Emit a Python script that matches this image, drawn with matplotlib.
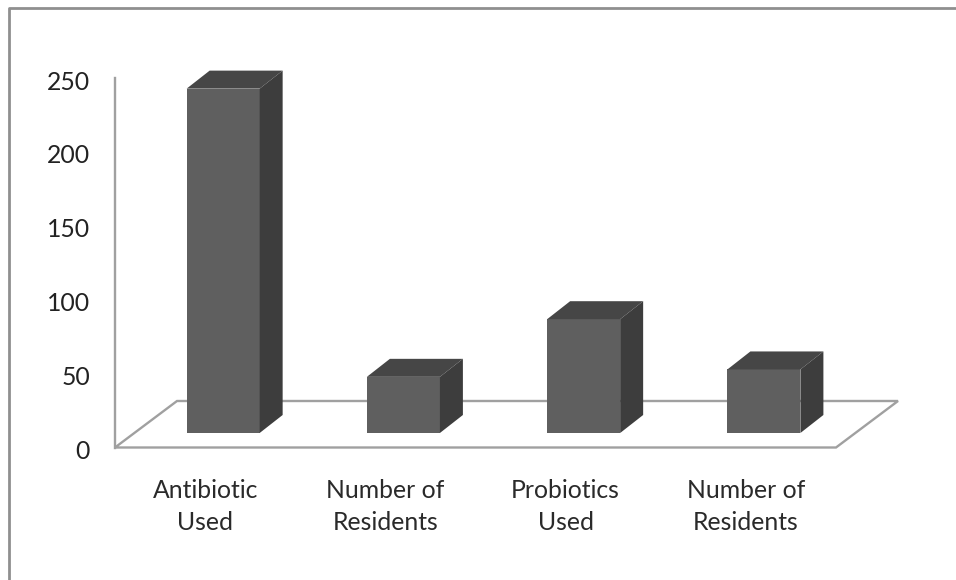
import matplotlib
matplotlib.use("Agg")
import matplotlib.pyplot as plt
from matplotlib.patches import Polygon
from matplotlib.transforms import ScaledTranslation

categories = ["Antibiotic\nUsed", "Number of\nResidents", "Probiotics\nUsed", "Number of\nResidents"]
values = [233, 38, 77, 43]
y_ticks = [0, 50, 100, 150, 200, 250]

W, H = 956, 580
plt.rcParams['font.family'] = ['Lato', 'DejaVu Sans']
fig = plt.figure(figsize=(W / 100, H / 100), dpi=100, facecolor='white')

# axes: x 115..836 px, y 447.5..78 px
ax = fig.add_axes([115 / W, 1 - 447.5 / H, (836 - 115) / W, (447.5 - 78) / H])
ax.set_xlim(-0.6, 3.4)
ax.set_ylim(0, 250)
ax.patch.set_visible(False)
px_x = (836 - 115) / 4.0
px_y = (447.5 - 78) / 250.0

LINE = '#a0a0a0'
FRONT, TOP, SIDE = '#5f5f5f', '#464646', '#3d3d3d'
bar_w = 73 / px_x
dx, dy = 23 / px_x, 18 / px_y
base = 14.5 / px_y
fdx, fdy = 62 / px_x, 46.5 / px_y

# floor
ax.add_patch(Polygon([(-0.6, 0), (3.4, 0), (3.4 + fdx, fdy), (-0.6 + fdx, fdy)], closed=True,
                     facecolor='none', edgecolor=LINE, linewidth=1.7, clip_on=False, zorder=1))
for s in ('top', 'right', 'bottom'):
    ax.spines[s].set_visible(False)
ax.spines['left'].set_color(LINE)
ax.spines['left'].set_linewidth(1.7)

for i, v in enumerate(values):
    l, r = i - bar_w / 2, i + bar_w / 2
    t = base + v
    ax.add_patch(Polygon([(l, base), (r, base), (r, t), (l, t)], closed=True, facecolor=FRONT,
                         edgecolor='none', clip_on=False, zorder=3))
    ax.add_patch(Polygon([(l, t), (r, t), (r + dx, t + dy), (l + dx, t + dy)], closed=True,
                         facecolor=TOP, edgecolor='none', clip_on=False, zorder=3))
    ax.add_patch(Polygon([(r, base), (r + dx, base + dy), (r + dx, t + dy), (r, t)], closed=True,
                         facecolor=SIDE, edgecolor='none', clip_on=False, zorder=3))

ax.set_yticks(y_ticks)
ax.set_xticks(range(len(categories)))
ax.set_xticklabels(categories, linespacing=1.45)
ax.tick_params(axis='y', length=0, pad=18, labelsize=17.8, labelcolor='#222222')
ax.tick_params(axis='x', length=0, pad=23, labelsize=17.8, labelcolor='#2a2a2a')
for lab in ax.get_xticklabels():
    lab.set_transform(lab.get_transform() + ScaledTranslation(-18 / 100, 0, fig.dpi_scale_trans))
for lab in ax.get_yticklabels():
    lab.set_transform(lab.get_transform() + ScaledTranslation(0, -2 / 100, fig.dpi_scale_trans))

# outer chart frame
fig.add_artist(plt.Line2D([8.5 / W, 8.5 / W, 1.0], [0, 1 - 8 / H, 1 - 8 / H],
                          color='#8f8f8f', linewidth=2.0))

fig.savefig('out.png', dpi=100, facecolor='white')
